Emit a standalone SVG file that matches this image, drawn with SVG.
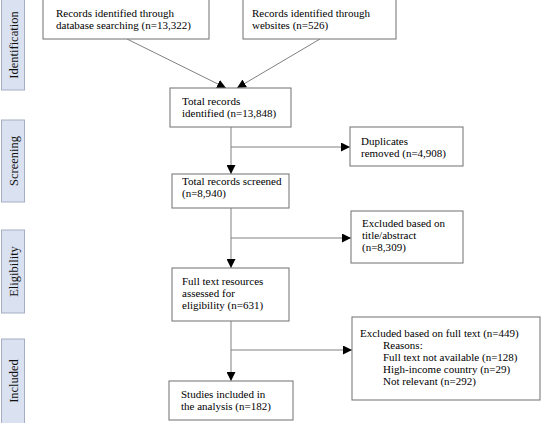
<svg xmlns="http://www.w3.org/2000/svg" width="542" height="423" viewBox="0 0 542 423">
<style>
.bg{fill:#ffffff}
.box{fill:#ffffff;stroke:#7c7c7c;stroke-width:1.1}
.phase{fill:#dae2f1;stroke:#a4aec2;stroke-width:1}
.t{font-family:"Liberation Serif","Times New Roman","DejaVu Serif",serif;font-size:11.3px;fill:#000000}
.pt{font-family:"Liberation Serif","Times New Roman","DejaVu Serif",serif;font-size:12.5px;fill:#111111;text-anchor:middle}
.ln{stroke:#808080;stroke-width:1;fill:none}
</style>
<defs>
<marker id="ah" markerUnits="userSpaceOnUse" markerWidth="9" markerHeight="9" refX="9" refY="4.5" orient="auto">
<path d="M0,0 L9,4.5 L0,9 z" fill="#000000"/>
</marker>
</defs>
<rect class="bg" x="0" y="0" width="542" height="423"/>
<g id="phase-identification"><rect class="phase" x="1.5" y="-1" width="23" height="91"/><text class="pt" transform="translate(17.5,45) rotate(-90)">Identification</text></g>
<g id="phase-screening"><rect class="phase" x="1.5" y="120" width="23" height="82"/><text class="pt" transform="translate(17.5,161) rotate(-90)">Screening</text></g>
<g id="phase-eligibility"><rect class="phase" x="1.5" y="230" width="23" height="83"/><text class="pt" transform="translate(17.5,271.5) rotate(-90)">Eligibility</text></g>
<g id="phase-included"><rect class="phase" x="1.5" y="339" width="23" height="85"/><text class="pt" transform="translate(17.5,381) rotate(-90)">Included</text></g>
<g id="connectors">
<line class="ln" x1="127" y1="39" x2="226" y2="88" marker-end="url(#ah)"/>
<line class="ln" x1="320" y1="39" x2="237" y2="88" marker-end="url(#ah)"/>
<line class="ln" x1="231" y1="127" x2="231" y2="174" marker-end="url(#ah)"/>
<line class="ln" x1="231" y1="147" x2="350" y2="147" marker-end="url(#ah)"/>
<line class="ln" x1="231" y1="208" x2="231" y2="268" marker-end="url(#ah)"/>
<line class="ln" x1="231" y1="238" x2="351" y2="238" marker-end="url(#ah)"/>
<line class="ln" x1="231" y1="321" x2="231" y2="381" marker-end="url(#ah)"/>
<line class="ln" x1="231" y1="350" x2="352" y2="350" marker-end="url(#ah)"/>
</g>
<g id="db-records"><rect class="box" x="43" y="-1" width="166" height="40"/><text class="t" x="56" y="17" textLength="117.9" lengthAdjust="spacingAndGlyphs">Records identified through</text><text class="t" x="56" y="29" textLength="134.8" lengthAdjust="spacingAndGlyphs">database searching (n=13,322)</text></g>
<g id="web-records"><rect class="box" x="243" y="-1" width="153" height="40"/><text class="t" x="252" y="17" textLength="117.9" lengthAdjust="spacingAndGlyphs">Records identified through</text><text class="t" x="252" y="29" textLength="76.2" lengthAdjust="spacingAndGlyphs">websites (n=526)</text></g>
<g id="total-identified"><rect class="box" x="170" y="88" width="121" height="39"/><text class="t" x="182" y="105" textLength="58.3" lengthAdjust="spacingAndGlyphs">Total records</text><text class="t" x="182" y="117" textLength="94.2" lengthAdjust="spacingAndGlyphs">identified (n=13,848)</text></g>
<g id="duplicates"><rect class="box" x="350" y="127" width="113" height="39"/><text class="t" x="361" y="145" textLength="47" lengthAdjust="spacingAndGlyphs">Duplicates</text><text class="t" x="361" y="157" textLength="85" lengthAdjust="spacingAndGlyphs">removed (n=4,908)</text></g>
<g id="screened"><rect class="box" x="172" y="174" width="117" height="34"/><text class="t" x="182" y="185" textLength="99.6" lengthAdjust="spacingAndGlyphs">Total records screened</text><text class="t" x="182" y="197" textLength="43.8" lengthAdjust="spacingAndGlyphs">(n=8,940)</text></g>
<g id="excluded-title"><rect class="box" x="351" y="211" width="112" height="52"/><text class="t" x="362" y="227" textLength="83.1" lengthAdjust="spacingAndGlyphs">Excluded based on</text><text class="t" x="362" y="239" textLength="54.4" lengthAdjust="spacingAndGlyphs">title/abstract</text><text class="t" x="362" y="251" textLength="43.8" lengthAdjust="spacingAndGlyphs">(n=8,309)</text></g>
<g id="full-text"><rect class="box" x="172" y="268" width="117" height="53"/><text class="t" x="182" y="285" textLength="81.3" lengthAdjust="spacingAndGlyphs">Full text resources</text><text class="t" x="182" y="297" textLength="52.8" lengthAdjust="spacingAndGlyphs">assessed for</text><text class="t" x="182" y="309" textLength="81.1" lengthAdjust="spacingAndGlyphs">eligibility (n=631)</text></g>
<g id="excluded-full"><rect class="box" x="352" y="317" width="188" height="83"/><text class="t" x="360" y="337" textLength="158.7" lengthAdjust="spacingAndGlyphs">Excluded based on full text (n=449)</text><text class="t" x="383" y="349" textLength="39.7" lengthAdjust="spacingAndGlyphs">Reasons:</text><text class="t" x="383" y="361" textLength="134.5" lengthAdjust="spacingAndGlyphs">Full text not available (n=128)</text><text class="t" x="383" y="373" textLength="127.2" lengthAdjust="spacingAndGlyphs">High-income country (n=29)</text><text class="t" x="383" y="385" textLength="93" lengthAdjust="spacingAndGlyphs">Not relevant (n=292)</text></g>
<g id="studies"><rect class="box" x="169" y="381" width="124" height="39"/><text class="t" x="181" y="398" textLength="84.3" lengthAdjust="spacingAndGlyphs">Studies included in</text><text class="t" x="181" y="410" textLength="89.9" lengthAdjust="spacingAndGlyphs">the analysis (n=182)</text></g>
</svg>
